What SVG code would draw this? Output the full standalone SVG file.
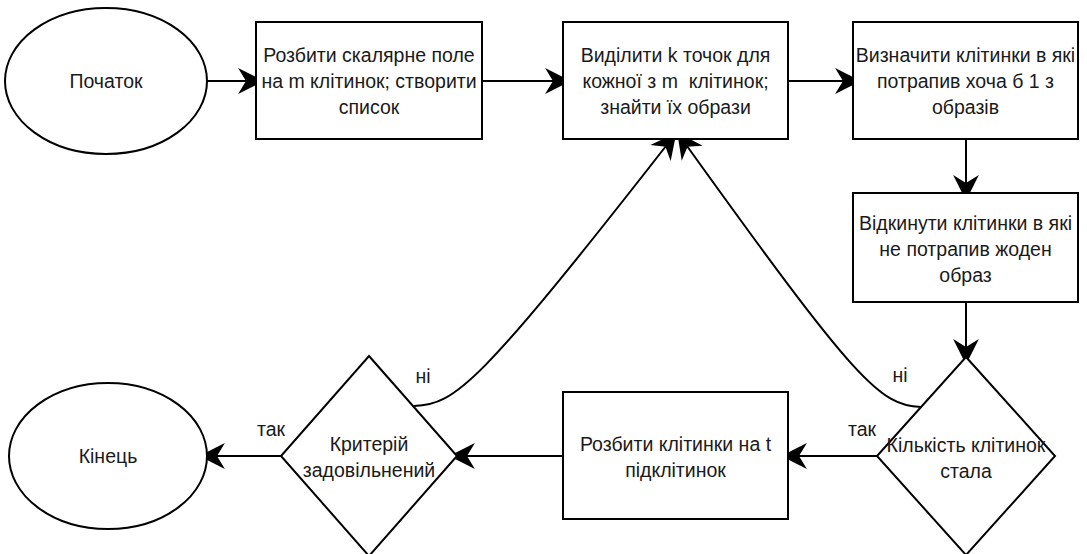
<svg xmlns="http://www.w3.org/2000/svg" width="1087" height="554" viewBox="0 0 1087 554">
<style>
.sh{fill:#fff;stroke:#000;stroke-width:2}
.t{font-family:"Liberation Sans",Arial,sans-serif;font-size:19.5px;fill:#1a1a1a;text-anchor:middle;white-space:pre}
.c{fill:none;stroke:#000;stroke-width:2}
</style>
<defs>
<marker id="arr" markerUnits="userSpaceOnUse" markerWidth="30" markerHeight="30" viewBox="-6 -9 17 18" refX="0" refY="0" orient="auto" overflow="visible">
<path d="M9,0 L-4,-6.5 L0,0 L-4,6.5 Z" fill="#000" stroke="#000" stroke-width="1" stroke-linejoin="miter"/>
</marker>
</defs>
<rect width="1087" height="554" fill="#fff"/>
<g id="connectors">
<line class="c" x1="207" y1="81" x2="247" y2="81" marker-end="url(#arr)"/>
<line class="c" x1="482" y1="81" x2="554" y2="81" marker-end="url(#arr)"/>
<line class="c" x1="788" y1="81" x2="844" y2="81" marker-end="url(#arr)"/>
<line class="c" x1="966" y1="139" x2="966" y2="184" marker-end="url(#arr)"/>
<line class="c" x1="966" y1="302" x2="966" y2="348" marker-end="url(#arr)"/>
<line class="c" x1="877" y1="456" x2="798" y2="456" marker-end="url(#arr)"/>
<line class="c" x1="563" y1="456" x2="466" y2="456" marker-end="url(#arr)"/>
<line class="c" x1="281" y1="456" x2="216" y2="456" marker-end="url(#arr)"/>
<path class="c" d="M414,406 C455,405 480,384 666,146" marker-end="url(#arr)"/>
<path class="c" d="M921,407 C880,406 855,380 687,146" marker-end="url(#arr)"/>
<text class="t" x="900" y="382">ні</text>
<text class="t" x="862" y="436">так</text>
<text class="t" x="423" y="383">ні</text>
<text class="t" x="271" y="436">так</text>
</g>
<g id="start">
<ellipse class="sh" cx="106" cy="81" rx="101" ry="73"/>
<text class="t" x="106" y="88">Початок</text>
</g>
<g id="split-field">
<rect class="sh" x="256" y="22" width="226" height="117"/>
<text class="t" x="369" y="62">Розбити скалярне поле</text>
<text class="t" x="369" y="88">на m клітинок; створити</text>
<text class="t" x="369" y="114">список</text>
</g>
<g id="select-points">
<rect class="sh" x="563" y="22" width="225" height="117"/>
<text class="t" x="675.5" y="62">Виділити k точок для</text>
<text class="t" x="675.5" y="88">кожної з m  клітинок;</text>
<text class="t" x="675.5" y="114">знайти їх образи</text>
</g>
<g id="find-cells">
<rect class="sh" x="853" y="22" width="225" height="117"/>
<text class="t" x="965.5" y="62">Визначити клітинки в які</text>
<text class="t" x="965.5" y="88">потрапив хоча б 1 з</text>
<text class="t" x="965.5" y="114">образів</text>
</g>
<g id="discard-cells">
<rect class="sh" x="853" y="193" width="225" height="109"/>
<text class="t" x="965.5" y="230">Відкинути клітинки в які</text>
<text class="t" x="965.5" y="256">не потрапив жоден</text>
<text class="t" x="965.5" y="282">образ</text>
</g>
<g id="count-const">
<polygon class="sh" points="966,357 1055,456 966,555 877,456"/>
<text class="t" x="966" y="452">Кількість клітинок</text>
<text class="t" x="966" y="478">стала</text>
</g>
<g id="split-cells">
<rect class="sh" x="563" y="392" width="225" height="127"/>
<text class="t" x="675.5" y="451">Розбити клітинки на t</text>
<text class="t" x="675.5" y="477">підклітинок</text>
</g>
<g id="criterion">
<polygon class="sh" points="369,356 457,456 369,556 281,456"/>
<text class="t" x="369" y="451">Критерій</text>
<text class="t" x="369" y="477">задовільнений</text>
</g>
<g id="end">
<ellipse class="sh" cx="108" cy="456" rx="99" ry="73"/>
<text class="t" x="108" y="463">Кінець</text>
</g>
</svg>
